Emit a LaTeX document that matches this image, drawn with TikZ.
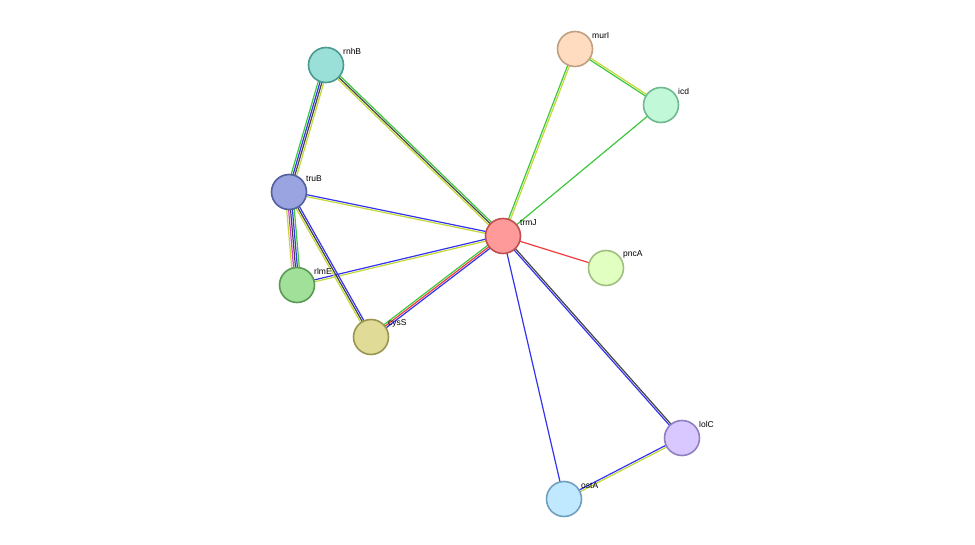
\documentclass[tikz,border=0pt]{standalone}
\usepackage{fontspec}
\setmainfont{Liberation Sans}
\usetikzlibrary{calc,backgrounds}
\definecolor{eg}{HTML}{3CC83C}
\definecolor{eb}{HTML}{3333F0}
\definecolor{ey}{HTML}{C4D838}
\definecolor{er}{HTML}{F03C3C}
\definecolor{ek}{HTML}{444444}
\definecolor{em}{HTML}{D040D0}
\tikzset{
  prot/.style={circle, draw, line width=1.6pt, minimum size=35pt, inner sep=0pt},
  lab/.style={font=\fontsize{8.5}{10}\selectfont, anchor=south west, inner sep=0pt},
  link/.style={line width=1.2pt}
}
% edge with parallel coloured lines: from, to, count, colours
\newcommand{\stredge}[4]{%
  \foreach \c [count=\i] in {#4} {
    \pgfmathsetmacro{\off}{(\i-(#3+1)/2)*1.9}
    \draw[link, \c] ($(#1)!\off pt!90:(#2)$) -- ($(#2)!\off pt!-90:(#1)$);
  }}
\begin{document}
\begin{tikzpicture}[x=1pt, y=-1pt]
  \useasboundingbox (0,0) rectangle (975,545);
  % proteins
  \node[prot, fill={rgb,255:red,255;green,154;blue,154}, draw={rgb,255:red,192;green,80;blue,80}] (trmJ) at (503,236) {};
  \node[prot, fill={rgb,255:red,154;green,224;blue,216}, draw={rgb,255:red,74;green,154;blue,144}] (rnhB) at (326,65) {};
  \node[prot, fill={rgb,255:red,154;green,164;blue,224}, draw={rgb,255:red,80;green,96;blue,160}] (truB) at (289,192) {};
  \node[prot, fill={rgb,255:red,160;green,224;blue,152}, draw={rgb,255:red,90;green,154;blue,85}] (rlmE) at (297,285) {};
  \node[prot, fill={rgb,255:red,224;green,220;blue,152}, draw={rgb,255:red,154;green,150;blue,80}] (cysS) at (371,337) {};
  \node[prot, fill={rgb,255:red,255;green,220;blue,192}, draw={rgb,255:red,192;green,160;blue,128}] (murI) at (575,49) {};
  \node[prot, fill={rgb,255:red,192;green,248;blue,216}, draw={rgb,255:red,112;green,184;blue,144}] (icd) at (661,105) {};
  \node[prot, fill={rgb,255:red,224;green,255;blue,192}, draw={rgb,255:red,160;green,192;blue,128}] (pncA) at (606,268) {};
  \node[prot, fill={rgb,255:red,216;green,200;blue,255}, draw={rgb,255:red,144;green,128;blue,192}] (lolC) at (682,438) {};
  \node[prot, fill={rgb,255:red,192;green,232;blue,255}, draw={rgb,255:red,112;green,160;blue,192}] (ostA) at (564,499) {};
  % labels
  \foreach \n in {trmJ,rnhB,truB,rlmE,cysS,murI,icd,pncA,lolC,ostA}
    \node[lab] (l\n) at ($(\n)+(17,-10)$) {\n};
  % links
  \begin{scope}[on background layer]
    \stredge{trmJ}{rnhB}{3}{eg,ek,ey}
    \stredge{trmJ}{truB}{2}{eb,ey}
    \stredge{trmJ}{rlmE}{2}{eb,ey}
    \stredge{trmJ}{cysS}{3}{eg,er,eb}
    \stredge{trmJ}{murI}{2}{ey,eg}
    \stredge{trmJ}{icd}{1}{eg}
    \stredge{trmJ}{pncA}{1}{er}
    \stredge{trmJ}{lolC}{2}{eb,ek}
    \stredge{trmJ}{ostA}{1}{eb}
    \stredge{rnhB}{truB}{4}{eg,eb,ek,ey}
    \stredge{truB}{rlmE}{5}{ey,em,ek,eb,eg}
    \stredge{truB}{cysS}{3}{ey,ek,eb}
    \stredge{murI}{icd}{2}{eg,ey}
    \stredge{lolC}{ostA}{2}{eb,ey}
  \end{scope}
\end{tikzpicture}
\end{document}
